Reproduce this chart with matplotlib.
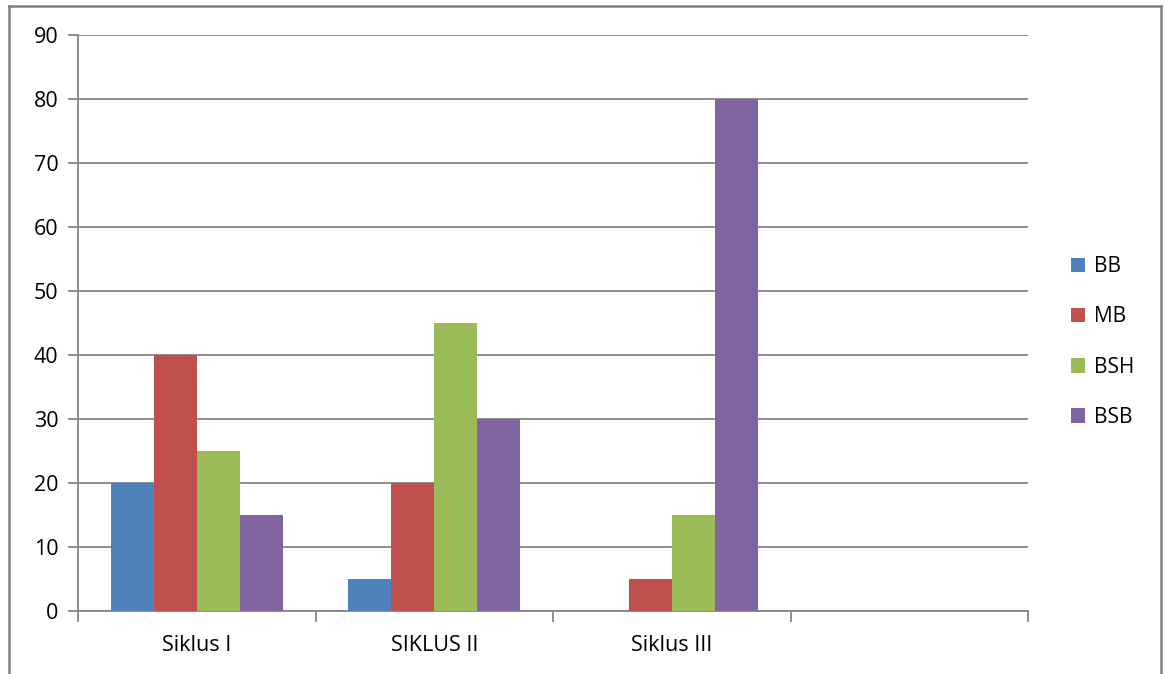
import matplotlib
matplotlib.use("Agg")
import matplotlib.pyplot as plt
import numpy as np
from matplotlib.lines import Line2D

categories = ["Siklus I", "SIKLUS II", "Siklus III", ""]
series_names = ["BB", "MB", "BSH", "BSB"]
BB = [20, 5, 0, 0]
MB = [40, 20, 5, 0]
BSH = [25, 45, 15, 0]
BSB = [15, 30, 80, 0]
yticks = [0, 10, 20, 30, 40, 50, 60, 70, 80, 90]
colors = ["#4F81BD", "#C0504D", "#9BBB59", "#8064A2"]

plt.rcParams['font.family'] = ['Open Sans', 'DejaVu Sans']

fig = plt.figure(figsize=(11.65, 6.74), dpi=100)
ax = fig.add_axes([78/1165, 63/674, 950/1165, 576/674])

grid_c = "#868686"
n = len(categories)
x = np.arange(n)
bw = 0.181
data = [BB, MB, BSH, BSB]
for i, (name, vals) in enumerate(zip(series_names, data)):
    ax.bar(x + (i - 1.5) * bw, vals, width=bw, color=colors[i], label=name,
           zorder=3, linewidth=0)

ax.set_xlim(-0.5, n - 0.5)
ax.set_ylim(0, 90)
ax.set_yticks(yticks)
ax.set_yticklabels([str(t) for t in yticks], fontsize=15.5)
ax.yaxis.grid(True, color=grid_c, linewidth=1.3, zorder=0)
ax.set_axisbelow(True)

ax.set_xticks(x)
ax.set_xticklabels(categories, fontsize=15.5)
ax.tick_params(axis='x', length=0, pad=17)
ax.set_xticks(np.arange(n + 1) - 0.5, minor=True)
ax.tick_params(axis='x', which='minor', length=8, width=1.3, color=grid_c, direction='out')
ax.tick_params(axis='y', length=7, width=1.3, color=grid_c, direction='out', pad=7)

for s in ['top', 'right']:
    ax.spines[s].set_visible(False)
for s in ['left', 'bottom']:
    ax.spines[s].set_color(grid_c)
    ax.spines[s].set_linewidth(1.3)

leg = ax.legend(loc='center left', bbox_to_anchor=(1.025, 0.467), frameon=False,
                fontsize=15, handlelength=0.7, handleheight=0.7,
                handletextpad=0.45, labelspacing=1.4)

# outer chart border
bc = "#808080"
L, R, T = 9/1165, 1161/1165, 1 - 6/674
for xs, ys in [([L, R], [T, T]), ([L, L], [-0.01, T]), ([R, R], [-0.01, T])]:
    fig.add_artist(Line2D(xs, ys, transform=fig.transFigure, color=bc,
                          linewidth=1.8, solid_capstyle='projecting'))

fig.savefig("out.png", dpi=100)
